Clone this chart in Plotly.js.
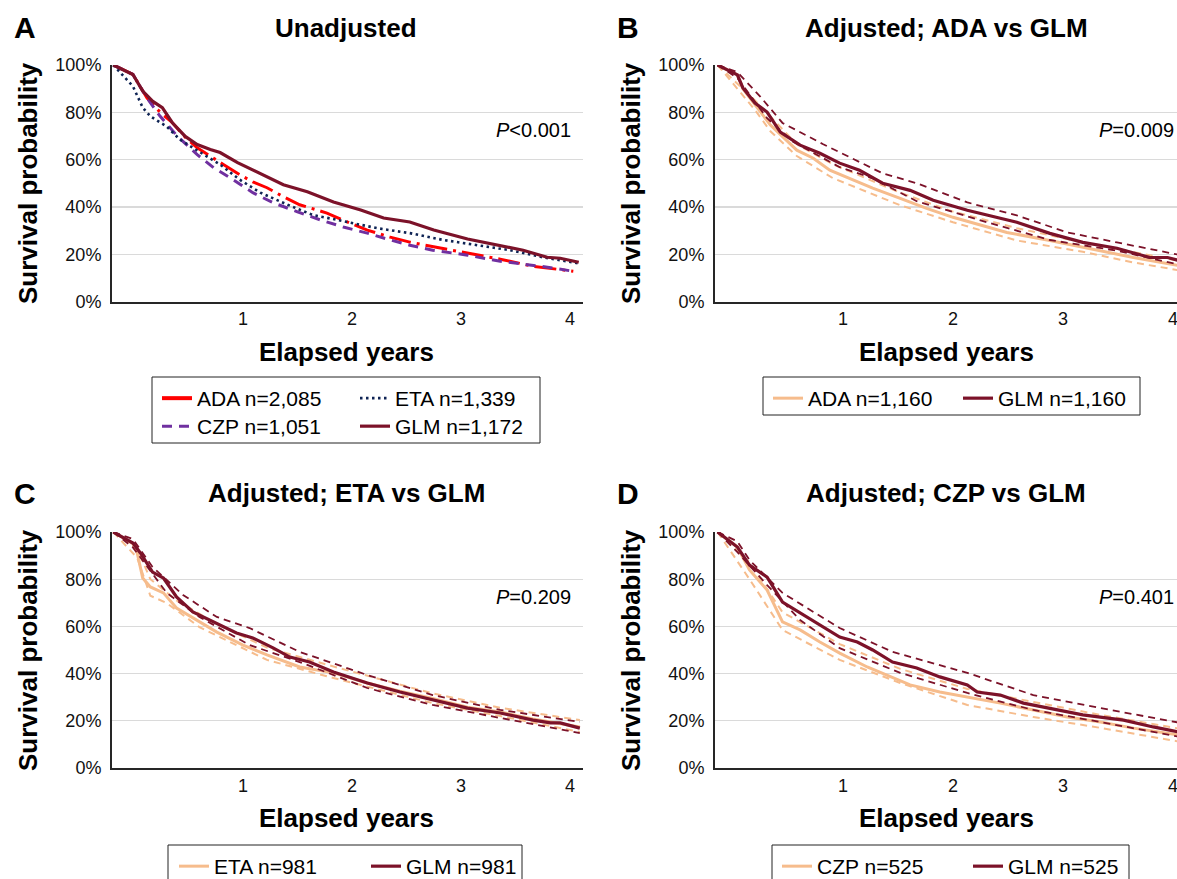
<!DOCTYPE html>
<html>
<head>
<meta charset="utf-8">
<script src="https://cdn.plot.ly/plotly-3.0.1.min.js"></script>
<style>
html,body{margin:0;padding:0;overflow:hidden;background:#fff;}
#chart{width:1195px;height:879px;}
</style>
</head>
<body>
<div id="chart"></div>
<script>
// ---------------- DATA (years, survival %) ----------------
// Panel A: Unadjusted
const tA_ADA = [-0.19, -0.01, 0.12, 0.24, 0.35, 0.47, 0.58, 0.70, 0.82, 0.97, 1.09, 1.22, 1.37, 1.52, 1.77, 1.96, 2.14, 2.35, 2.53, 2.81, 3.06, 3.36, 3.66, 4.03];
const sA_ADA = [100, 96, 86, 80, 75.7, 69.5, 65, 61.3, 57.9, 53.6, 50.6, 48.1, 44.3, 40.9, 37.4, 33.6, 30.2, 27.2, 25.1, 22.6, 20.4, 17.9, 14.9, 12.8];
const tA_ETA = [-0.19, -0.01, 0.08, 0.15, 0.30, 0.42, 0.61, 0.79, 0.97, 1.16, 1.41, 1.64, 1.96, 2.23, 2.53, 2.84, 3.15, 3.45, 3.75, 4.07];
const sA_ETA = [100, 91, 82, 78.3, 74, 68.5, 63, 57.9, 51.5, 46, 40.9, 36.6, 33.6, 31, 28.9, 26, 23.8, 21.7, 18.7, 16.2];
const tA_CZP = [-0.19, -0.01, 0.12, 0.24, 0.40, 0.58, 0.73, 0.91, 1.09, 1.28, 1.50, 1.71, 1.92, 2.14, 2.32, 2.53, 2.74, 3.06, 3.36, 3.73, 4.03];
const sA_CZP = [100, 96, 86, 78.3, 69.8, 62.1, 56.6, 51.5, 46, 41.7, 37.9, 34.5, 31.5, 28.9, 26.4, 23.8, 21.7, 19.6, 17, 14.9, 12.8];
const tA_GLM = [-0.19, -0.01, 0.08, 0.17, 0.26, 0.35, 0.47, 0.58, 0.70, 0.79, 0.95, 1.09, 1.25, 1.37, 1.59, 1.83, 2.08, 2.29, 2.53, 2.75, 3.06, 3.36, 3.57, 3.79, 3.91, 4.08];
const sA_GLM = [100, 96, 89, 84.7, 82, 75.7, 69.8, 66.4, 64.3, 63, 58.7, 55.7, 52.3, 49.4, 46.4, 42.1, 38.7, 35.3, 33.6, 30.2, 26.4, 23.8, 21.7, 18.7, 18.3, 16.6];

// Panel B: Adjusted; ADA vs GLM
const tB_ADA = [-0.14, 0.04, 0.09, 0.20, 0.34, 0.58, 0.73, 0.88, 1.06, 1.27, 1.52, 1.76, 2.00, 2.27, 2.49, 2.88, 3.18, 3.64, 4.08];
const sB_ADA = [100, 95.8, 90, 83, 74.6, 64, 60.6, 55.5, 52.1, 47.9, 43.6, 39.4, 35.6, 32.2, 29.2, 25.8, 22.9, 18.6, 15];
const tB_ADAu = [-0.14, 0.20, 0.58, 0.91, 1.52, 2.00, 2.58, 3.18, 4.08];
const sB_ADAu = [100, 85, 66.5, 58, 46, 38, 31, 25, 17];
const tB_ADAl = [-0.14, 0.20, 0.34, 0.58, 0.91, 1.52, 2.00, 2.58, 3.18, 3.64, 4.08];
const sB_ADAl = [100, 81, 72, 61.5, 52.1, 40.7, 33.5, 25.8, 21, 16.5, 13];
const tB_GLM = [-0.14, 0.04, 0.09, 0.20, 0.31, 0.43, 0.61, 0.79, 0.97, 1.15, 1.36, 1.61, 1.82, 2.13, 2.43, 2.58, 2.88, 3.18, 3.49, 3.79, 3.95, 4.08];
const sB_GLM = [100, 95.8, 90.3, 83.9, 80.1, 71.6, 66.1, 62.7, 58.5, 55.5, 50, 47, 42.8, 38.6, 35.2, 33.5, 28.8, 25, 22.5, 18.6, 18.6, 17];
const tB_GLMu = [-0.14, 0.04, 0.25, 0.45, 0.82, 1.36, 1.67, 2.13, 2.58, 3.04, 3.49, 4.08];
const sB_GLMu = [100, 97, 86.5, 75.5, 66.5, 54.2, 50, 41.9, 36.4, 29.2, 25, 19.5];
const tB_GLMl = [-0.14, 0.04, 0.31, 0.55, 0.97, 1.27, 1.67, 1.88, 2.31, 2.88, 3.49, 4.08];
const sB_GLMl = [100, 94.5, 77.5, 67.4, 56.8, 52.1, 42.4, 39.4, 33.5, 26, 21.5, 15.3];

// Panel C: Adjusted; ETA vs GLM
const tC_ETA = [-0.19, -0.01, 0.03, 0.08, 0.15, 0.27, 0.39, 0.54, 0.76, 1.00, 1.22, 1.52, 1.83, 2.14, 2.44, 2.74, 3.06, 3.36, 3.66, 4.09];
const sC_ETA = [100, 95, 91, 80.5, 76.7, 74.2, 67.8, 63.6, 57.6, 52.1, 47.9, 42.8, 40.3, 36, 32.5, 29.5, 25.8, 23.7, 20.8, 17.4];
const tC_ETAu = [-0.19, 0.03, 0.15, 0.39, 0.76, 1.22, 1.83, 2.74, 3.36, 4.09];
const sC_ETAu = [100, 93, 80, 71, 61, 51, 43, 31.6, 25.5, 20.3];
const tC_ETAl = [-0.19, 0.03, 0.15, 0.30, 0.60, 1.22, 1.83, 2.74, 3.36, 4.09];
const sC_ETAl = [100, 89, 73, 69.9, 59.7, 45.8, 38.1, 27.5, 22, 15.3];
const tC_GLM = [-0.19, -0.01, 0.06, 0.17, 0.27, 0.39, 0.54, 0.76, 0.94, 1.09, 1.28, 1.43, 1.61, 1.83, 2.14, 2.44, 2.74, 3.06, 3.36, 3.66, 3.82, 3.91, 4.09];
const sC_GLM = [100, 95.3, 91, 83, 80.5, 72.5, 66.1, 61.4, 57.2, 55.1, 50.8, 47, 44.9, 40.7, 36, 32.2, 28.8, 25.4, 23.3, 20.3, 19.1, 19.1, 16.9];
const tC_GLMu = [-0.19, -0.01, 0.17, 0.45, 0.76, 1.06, 1.52, 2.14, 2.74, 3.36, 4.09];
const sC_GLMu = [100, 97, 85.2, 73.3, 64, 59.3, 49.2, 39.4, 30.9, 24.6, 19.5];
const tC_GLMl = [-0.19, -0.01, 0.30, 0.60, 1.06, 1.52, 2.14, 2.74, 3.36, 4.09];
const sC_GLMl = [100, 93.5, 74.2, 64, 52.1, 44.9, 33.9, 26.7, 21.2, 14.8];

// Panel D: Adjusted; CZP vs GLM
const tD_CZP = [-0.14, 0.04, 0.15, 0.31, 0.45, 0.61, 0.79, 0.97, 1.22, 1.40, 1.61, 1.88, 2.13, 2.43, 2.73, 3.04, 3.34, 3.64, 4.08];
const sD_CZP = [100, 93.6, 83.9, 75.4, 61.9, 58.5, 53.4, 48.7, 42.8, 39.4, 35.2, 32.2, 30.1, 27.5, 24.6, 21.6, 19.5, 16.9, 13.8];
const tD_CZPu = [-0.14, 0.15, 0.45, 0.97, 1.52, 2.13, 2.73, 3.34, 4.08];
const sD_CZPu = [100, 87, 66, 52.5, 42, 33.5, 28, 22.5, 16.5];
const tD_CZPl = [-0.14, 0.15, 0.45, 0.97, 1.52, 2.13, 2.73, 3.34, 4.08];
const sD_CZPl = [100, 80, 58.5, 45.8, 36, 26.7, 21.6, 17, 11];
const tD_GLM = [-0.14, 0.04, 0.15, 0.31, 0.45, 0.61, 0.76, 0.97, 1.13, 1.27, 1.45, 1.67, 1.88, 2.13, 2.22, 2.43, 2.64, 2.88, 3.18, 3.55, 3.82, 4.08];
const sD_GLM = [100, 93.6, 86, 80.9, 70.3, 65.7, 61.4, 55.5, 53.4, 50, 44.9, 42.4, 38.6, 35.2, 32.2, 30.9, 27.5, 25.4, 22.5, 20.3, 17.4, 15];
const tD_GLMu = [-0.14, 0.04, 0.15, 0.45, 0.97, 1.45, 2.13, 2.73, 3.34, 4.08];
const sD_GLMu = [100, 96, 88.1, 74.2, 59.3, 49.2, 40.3, 30.9, 25.4, 19];
const tD_GLMl = [-0.14, 0.04, 0.31, 0.61, 0.97, 1.52, 2.13, 2.73, 3.34, 4.08];
const sD_GLMl = [100, 91.5, 77.5, 62.7, 50.8, 40.3, 31.8, 24.6, 19.5, 13];

// Tick labels and text
const xTicks = [1, 2, 3, 4];
const xTickText = ['1', '2', '3', '4'];
const yTicks = [0, 20, 40, 60, 80, 100];
const yTickText = ['0%', '20%', '40%', '60%', '80%', '100%'];
const panelLetters = ['A', 'B', 'C', 'D'];
const panelTitles = ['Unadjusted', 'Adjusted; ADA vs GLM', 'Adjusted; ETA vs GLM', 'Adjusted; CZP vs GLM'];
const pValues = ['<i>P</i>&lt;0.001', '<i>P</i>=0.009', '<i>P</i>=0.209', '<i>P</i>=0.401'];
const namesA = ['ADA n=2,085', 'ETA n=1,339', 'CZP n=1,051', 'GLM n=1,172'];
const namesB = ['ADA n=1,160', 'GLM n=1,160'];
const namesC = ['ETA n=981', 'GLM n=981'];
const namesD = ['CZP n=525', 'GLM n=525'];

// ---------------- STYLE ----------------
const W = 1195, H = 879;
const FONT = '"Liberation Sans", Arial, Helvetica, sans-serif';
const C_GLM = '#7C1229';
const C_LIGHT = '#F6BC8C';
const C_RED = '#FF0000';
const C_NAVY = '#0E2354';
const C_PURPLE = '#7030A0';
const fx = p => p / W;
const fy = p => 1 - p / H;

function line(x, y, xa, ya, color, width, dash, name, legend, showlegend) {
  return {type: 'scatter', mode: 'lines', x, y, xaxis: xa, yaxis: ya, name: name || '',
    line: {color, width, dash: dash || 'solid'}, showlegend: !!showlegend, legend: legend || 'legend',
    hoverinfo: 'skip'};
}
const CI_DASH = '7px,5px';
const traces = [
  // A
  line(tA_ADA, sA_ADA, 'x', 'y', C_RED, 3, '22px,6px,3px,6px'),
  line(tA_CZP, sA_CZP, 'x', 'y', C_PURPLE, 3, '10px,7px', namesA[2], 'legend2', true),
  line(tA_ETA, sA_ETA, 'x', 'y', C_NAVY, 2.6, '2.5px,3.5px', namesA[1], 'legend', true),
  line(tA_GLM, sA_GLM, 'x', 'y', C_GLM, 3.2, 'solid', namesA[3], 'legend2', true),
  // B
  line(tB_ADAu, sB_ADAu, 'x2', 'y2', C_LIGHT, 2, CI_DASH),
  line(tB_ADAl, sB_ADAl, 'x2', 'y2', C_LIGHT, 2, CI_DASH),
  line(tB_ADA, sB_ADA, 'x2', 'y2', C_LIGHT, 3, 'solid', namesB[0], 'legend3', true),
  line(tB_GLMu, sB_GLMu, 'x2', 'y2', C_GLM, 1.8, CI_DASH),
  line(tB_GLMl, sB_GLMl, 'x2', 'y2', C_GLM, 1.8, CI_DASH),
  line(tB_GLM, sB_GLM, 'x2', 'y2', C_GLM, 3.2, 'solid', namesB[1], 'legend3', true),
  // C
  line(tC_ETAu, sC_ETAu, 'x3', 'y3', C_LIGHT, 2, CI_DASH),
  line(tC_ETAl, sC_ETAl, 'x3', 'y3', C_LIGHT, 2, CI_DASH),
  line(tC_ETA, sC_ETA, 'x3', 'y3', C_LIGHT, 3, 'solid', namesC[0], 'legend4', true),
  line(tC_GLMu, sC_GLMu, 'x3', 'y3', C_GLM, 1.8, CI_DASH),
  line(tC_GLMl, sC_GLMl, 'x3', 'y3', C_GLM, 1.8, CI_DASH),
  line(tC_GLM, sC_GLM, 'x3', 'y3', C_GLM, 3.2, 'solid', namesC[1], 'legend4', true),
  // D
  line(tD_CZPu, sD_CZPu, 'x4', 'y4', C_LIGHT, 2, CI_DASH),
  line(tD_CZPl, sD_CZPl, 'x4', 'y4', C_LIGHT, 2, CI_DASH),
  line(tD_CZP, sD_CZP, 'x4', 'y4', C_LIGHT, 3, 'solid', namesD[0], 'legend5', true),
  line(tD_GLMu, sD_GLMu, 'x4', 'y4', C_GLM, 1.8, CI_DASH),
  line(tD_GLMl, sD_GLMl, 'x4', 'y4', C_GLM, 1.8, CI_DASH),
  line(tD_GLM, sD_GLM, 'x4', 'y4', C_GLM, 3.2, 'solid', namesD[1], 'legend5', true)
];
// legend sample for ADA in panel A (solid in the legend)
traces.unshift({type: 'scatter', mode: 'lines', x: [null], y: [null], xaxis: 'x', yaxis: 'y',
  name: namesA[0], line: {color: C_RED, width: 4}, showlegend: true, legend: 'legend', hoverinfo: 'skip'});
traces.forEach((t, i) => { t.legendrank = i; });
traces[0].legendrank = 1; // ADA first
traces[3].legendrank = 2; // ETA

function xax(l, r, range, anchor) {
  return {domain: [fx(l), fx(r)], range, anchor, tickvals: xTicks, ticktext: xTickText,
    showgrid: false, zeroline: false, showline: true, linecolor: '#262626', linewidth: 2,
    ticks: '', tickfont: {size: 18, color: '#111', family: FONT}, ticklabelstandoff: 0, fixedrange: true};
}
function yax(t, b, anchor) {
  return {domain: [fy(b), fy(t)], range: [0, 100], anchor, tickvals: yTicks, ticktext: yTickText,
    showgrid: true, gridcolor: '#DADADA', gridwidth: 1.3, zeroline: false, showline: true,
    linecolor: '#262626', linewidth: 2, ticks: '', tickfont: {size: 18, color: '#111', family: FONT},
    ticklabelstandoff: 5, fixedrange: true};
}
const L_LEFT = 112, L_RIGHT = 583, R_LEFT = 715, R_RIGHT = 1186;
const TOP1 = 65, BOT1 = 301.5, TOP2 = 532, BOT2 = 768;
const rangeL = [-0.2018, 4.119], rangeR = [-0.1636, 4.118];

const annotations = [];
const centersX = [346, 946, 346, 946];
const letterX = [25, 628, 25, 628];
const topY = [28, 28, 493, 493];
const yTitleX = [28, 631, 28, 631];
const yTitleY = [183, 183, 650, 650];
const xTitleY = [352, 352, 818, 818];
const xrefs = ['x', 'x2', 'x3', 'x4'], yrefs = ['y', 'y2', 'y3', 'y4'];
for (let i = 0; i < 4; i++) {
  annotations.push({text: panelLetters[i], xref: 'paper', yref: 'paper', x: fx(letterX[i]), y: fy(topY[i]),
    xanchor: 'center', yanchor: 'middle', showarrow: false, font: {family: FONT, size: 30, color: '#000', weight: 700}});
  annotations.push({text: panelTitles[i], xref: 'paper', yref: 'paper', x: fx(centersX[i]), y: fy(topY[i]),
    xanchor: 'center', yanchor: 'middle', showarrow: false, font: {family: FONT, size: 26, color: '#000', weight: 700}});
  annotations.push({text: 'Survival probability', xref: 'paper', yref: 'paper', x: fx(yTitleX[i]), y: fy(yTitleY[i]),
    xanchor: 'center', yanchor: 'middle', textangle: -90, showarrow: false, font: {family: FONT, size: 26, color: '#000', weight: 700}});
  annotations.push({text: 'Elapsed years', xref: 'paper', yref: 'paper', x: fx(centersX[i]), y: fy(xTitleY[i]),
    xanchor: 'center', yanchor: 'middle', showarrow: false, font: {family: FONT, size: 26, color: '#000', weight: 700}});
  annotations.push({text: pValues[i], xref: xrefs[i], yref: yrefs[i], x: 4.027, y: 72.5,
    xanchor: 'right', yanchor: 'middle', showarrow: false, font: {family: FONT, size: 20, color: '#000'}});
}

const legBase = {orientation: 'h', xanchor: 'left', yanchor: 'top', bgcolor: 'rgba(0,0,0,0)', borderwidth: 0,
  font: {family: FONT, size: 21, color: '#000'}, entrywidthmode: 'pixels', itemclick: false, itemdoubleclick: false};
function box(l, r, t, b) {
  return {type: 'rect', xref: 'paper', yref: 'paper', x0: fx(l), x1: fx(r), y0: fy(b), y1: fy(t),
    line: {color: '#222', width: 1}, fillcolor: 'rgba(0,0,0,0)'};
}
const layout = {
  width: W, height: H, margin: {l: 0, r: 0, t: 0, b: 0, autoexpand: false},
  paper_bgcolor: '#fff', plot_bgcolor: '#fff', font: {family: FONT},
  xaxis: xax(L_LEFT, L_RIGHT, rangeL, 'y'), yaxis: yax(TOP1, BOT1, 'x'),
  xaxis2: xax(R_LEFT, R_RIGHT, rangeR, 'y2'), yaxis2: yax(TOP1, BOT1, 'x2'),
  xaxis3: xax(L_LEFT, L_RIGHT, rangeL, 'y3'), yaxis3: yax(TOP2, BOT2, 'x3'),
  xaxis4: xax(R_LEFT, R_RIGHT, rangeR, 'y4'), yaxis4: yax(TOP2, BOT2, 'x4'),
  legend: Object.assign({}, legBase, {x: fx(157), y: fy(378), entrywidth: 153}),
  legend2: Object.assign({}, legBase, {x: fx(157), y: fy(406), entrywidth: 153}),
  legend3: Object.assign({}, legBase, {x: fx(768), y: fy(378), entrywidth: 145}),
  legend4: Object.assign({}, legBase, {x: fx(174), y: fy(846), entrywidth: 147}),
  legend5: Object.assign({}, legBase, {x: fx(777), y: fy(846), entrywidth: 146}),
  shapes: [box(152, 540, 377, 443), box(763, 1140, 377, 415), box(168, 522, 845, 895), box(772, 1129, 845, 895)],
  annotations,
  showlegend: true
};
Plotly.newPlot('chart', traces, layout, {displayModeBar: false, staticPlot: true});
</script>
</body>
</html>
